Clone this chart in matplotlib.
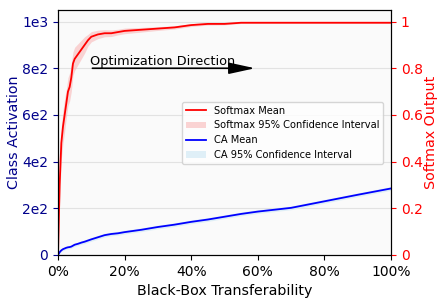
import matplotlib

matplotlib.use("Agg")
import matplotlib.pyplot as plt
from matplotlib.lines import Line2D
from matplotlib.patches import Patch

# transferability fraction (x axis)
pos = [0.0, 0.005, 0.01, 0.015, 0.02, 0.025, 0.03, 0.035, 0.04, 0.045, 0.05, 0.06,
       0.07, 0.08, 0.09, 0.10, 0.12, 0.14, 0.16, 0.18, 0.20, 0.25, 0.30, 0.35,
       0.40, 0.45, 0.50, 0.55, 0.60, 0.70, 0.80, 0.90, 1.00]

# softmax output mean and 95% CI half-width
softmax_mean = [0.0, 0.30, 0.48, 0.55, 0.60, 0.65, 0.70, 0.72, 0.76, 0.82, 0.84, 0.86,
                0.88, 0.90, 0.92, 0.935, 0.945, 0.95, 0.95, 0.955, 0.96, 0.965, 0.97, 0.975,
                0.985, 0.99, 0.99, 0.995, 0.995, 0.995, 0.995, 0.995, 0.995]
softmax_ci = [0.0, 0.07, 0.07, 0.07, 0.07, 0.06, 0.06, 0.06, 0.06, 0.05, 0.05, 0.045,
              0.04, 0.035, 0.025, 0.022, 0.018, 0.015, 0.014, 0.012, 0.012, 0.01, 0.008, 0.007,
              0.006, 0.005, 0.004, 0.003, 0.003, 0.002, 0.002, 0.002, 0.002]

# class activation mean and 95% CI half-width
ca_mean = [0, 12, 20, 25, 28, 31, 33, 34, 36, 40, 44, 48,
           53, 57, 62, 67, 76, 85, 90, 93, 98, 108, 120, 130,
           142, 152, 164, 176, 186, 202, 230, 258, 285]
ca_ci = [0, 5, 6, 6, 6, 6, 7, 7, 7, 7, 7, 7,
         7, 8, 8, 8, 8, 8, 8, 8, 8, 8, 8, 8,
         8, 8, 8, 8, 8, 8, 8, 8, 8]

x_ticks = [0, 0.2, 0.4, 0.6, 0.8, 1.0]
x_labels = ["0%", "20%", "40%", "60%", "80%", "100%"]
left_ticks = [0, 200, 400, 600, 800, 1000]
left_labels = ["0", "2e2", "4e2", "6e2", "8e2", "1e3"]
right_ticks = [0, 0.2, 0.4, 0.6, 0.8, 1.0]
right_labels = ["0", "0.2", "0.4", "0.6", "0.8", "1"]

fig = plt.figure(figsize=(4.44, 3.0), dpi=100)
ax = fig.add_axes([0.1306, 0.15, 0.75, 0.817])
ax.set_facecolor("#fafafa")
ax2 = ax.twinx()

ca_lo = [m - c for m, c in zip(ca_mean, ca_ci)]
ca_hi = [m + c for m, c in zip(ca_mean, ca_ci)]
ax.fill_between(pos, ca_lo, ca_hi, color="#d8ecf6", alpha=0.8, linewidth=0)
ax.plot(pos, ca_mean, color="blue", linewidth=1.3)

sm_lo = [m - c for m, c in zip(softmax_mean, softmax_ci)]
sm_hi = [min(m + c, 1.0) for m, c in zip(softmax_mean, softmax_ci)]
ax2.fill_between(pos, sm_lo, sm_hi, color="#f9b8b8", alpha=0.6, linewidth=0)
ax2.plot(pos, softmax_mean, color="red", linewidth=1.3)

ax.set_xlim(0, 1)
ax.set_ylim(0, 1050)
ax2.set_ylim(0, 1.05)
ax.set_xticks(x_ticks, x_labels, fontsize=10)
ax.set_yticks(left_ticks, left_labels, fontsize=10, color="darkblue")
ax.tick_params(axis="y", colors="darkblue")
ax2.set_yticks(right_ticks, right_labels, fontsize=10)
ax2.tick_params(axis="y", colors="red")
ax.yaxis.grid(True, color="#e2e2e2", linewidth=0.8)
ax.set_axisbelow(True)

ax.set_xlabel("Black-Box Transferability", fontsize=10.3)
ax.set_ylabel("Class Activation", fontsize=10.3, color="darkblue", labelpad=1)
ax2.set_ylabel("Softmax Output", fontsize=10.3, color="red", labelpad=1)

ax.annotate("", xy=(0.60, 800), xytext=(0.095, 800),
            arrowprops=dict(arrowstyle="-|>,head_length=1.6,head_width=0.35",
                            color="black", linewidth=1.2))
ax.text(0.095, 815, "Optimization Direction", fontsize=9.3)

handles = [
    Line2D([], [], color="red", linewidth=1.3),
    Patch(facecolor="#f9b8b8", alpha=0.6),
    Line2D([], [], color="blue", linewidth=1.3),
    Patch(facecolor="#d8ecf6", alpha=0.8),
]
labels = ["Softmax Mean", "Softmax 95% Confidence Interval", "CA Mean", "CA 95% Confidence Interval"]
ax2.legend(handles, labels, loc="center right", bbox_to_anchor=(0.991, 0.498),
           fontsize=7.1, handlelength=2.0, borderpad=0.4, labelspacing=0.5)

fig.savefig("out.png", dpi=100)
